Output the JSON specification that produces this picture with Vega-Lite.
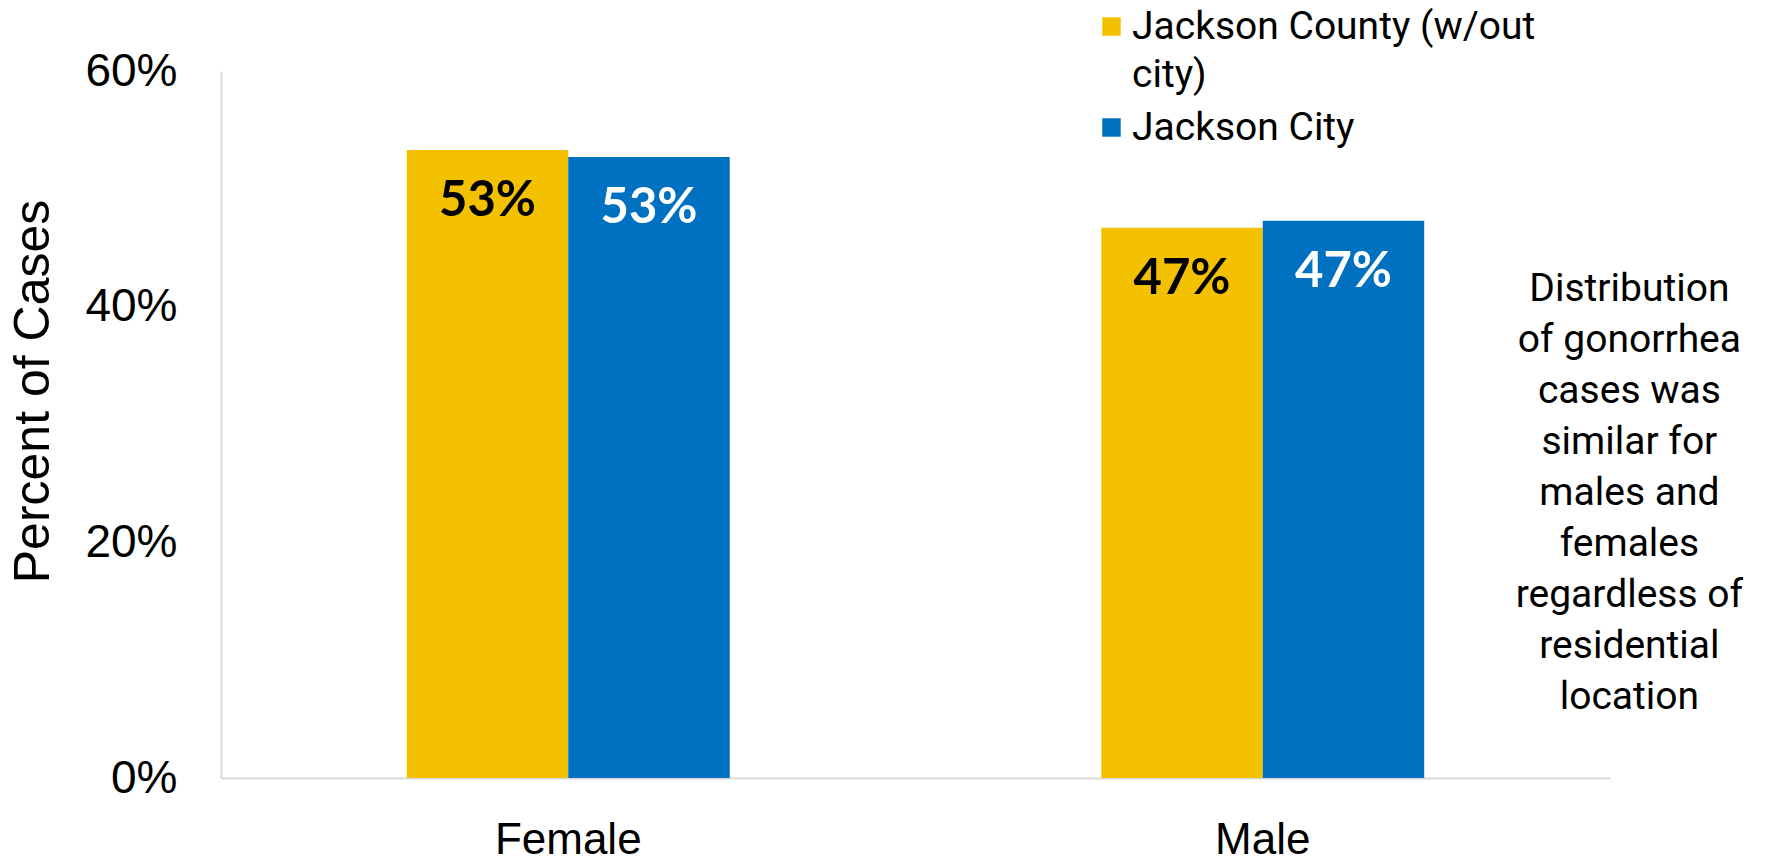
{
  "$schema": "https://vega.github.io/schema/vega-lite/v6.json",
  "width": 1389,
  "height": 707,
  "autosize": {"type": "none"},
  "padding": {"left": 221, "top": 71, "right": 157, "bottom": 81},
  "background": "white",
  "config": {"view": {"stroke": null}},
  "title": {
    "text": ["Distribution", "of gonorrhea", "cases was", "similar for", "males and", "females", "regardless of", "residential", "location"],
    "orient": "right",
    "angle": 0,
    "anchor": "middle",
    "align": "center",
    "baseline": "middle",
    "font": "Roboto",
    "fontSize": 39,
    "fontWeight": "normal",
    "color": "black",
    "lineHeight": 51,
    "offset": 0,
    "dx": -208,
    "dy": -136
  },
  "data": {
    "values": [
      {"sex": "Female", "series": "Jackson County (w/out city)", "pct": 0.533},
      {"sex": "Female", "series": "Jackson City", "pct": 0.527},
      {"sex": "Male", "series": "Jackson County (w/out city)", "pct": 0.467},
      {"sex": "Male", "series": "Jackson City", "pct": 0.473}
    ]
  },
  "encoding": {
    "x": {
      "field": "sex",
      "type": "nominal",
      "sort": ["Female", "Male"],
      "scale": {"paddingInner": 0.535, "paddingOuter": 0.2675},
      "axis": {
        "title": null,
        "labelAngle": 0,
        "labelFont": "Liberation Sans",
        "labelFontSize": 44,
        "labelColor": "black",
        "ticks": false,
        "tickSize": 0,
        "labelPadding": 40,
        "labelBaseline": "top",
        "labelLimit": 400,
        "domainColor": "#d9d9d9",
        "domainWidth": 2
      }
    },
    "xOffset": {"field": "series", "type": "nominal", "sort": ["Jackson County (w/out city)", "Jackson City"]},
    "y": {
      "field": "pct",
      "type": "quantitative",
      "scale": {"domain": [0, 0.6]},
      "axis": {
        "values": [0, 0.2, 0.4, 0.6],
        "format": ".0%",
        "grid": false,
        "ticks": false,
        "tickSize": 0,
        "labelFont": "Liberation Sans",
        "labelFontSize": 46,
        "labelColor": "black",
        "labelPadding": 44,
        "domainColor": "#d9d9d9",
        "domainWidth": 2,
        "title": "Percent of Cases",
        "titleFont": "Liberation Sans",
        "titleFontSize": 50,
        "titleFontWeight": "normal",
        "titleColor": "black",
        "titleAngle": -90,
        "titleX": -188,
        "titleY": 320,
        "titleAlign": "center",
        "titleBaseline": "middle"
      }
    }
  },
  "layer": [
    {
      "mark": {"type": "bar"},
      "encoding": {
        "color": {
          "field": "series",
          "type": "nominal",
          "scale": {"domain": ["Jackson County (w/out city)", "Jackson City"], "range": ["#F4C100", "#0070C0"]},
          "legend": {
            "title": null,
            "orient": "none",
            "legendX": 871,
            "legendY": -64,
            "direction": "vertical",
            "symbolType": "square",
            "symbolSize": 340,
            "symbolStrokeWidth": 0,
            "symbolOpacity": 1,
            "labelFont": "Roboto",
            "labelFontSize": 39,
            "labelColor": "black",
            "labelOffset": 1,
            "labelLimit": 800,
            "rowPadding": 13,
            "labelExpr": "datum.label == 'Jackson County (w/out city)' ? ['Jackson County (w/out', 'city)'] : datum.label",
            "encode": {"labels": {"update": {"lineHeight": {"value": 48}}}}
          }
        }
      }
    },
    {
      "mark": {"type": "text", "baseline": "middle", "dy": 51, "font": "Lato", "fontWeight": "bold", "fontSize": 49},
      "encoding": {
        "text": {"field": "pct", "type": "quantitative", "format": ".0%"},
        "color": {"condition": {"test": "datum.series === 'Jackson City'", "value": "white"}, "value": "black"}
      }
    }
  ]
}
